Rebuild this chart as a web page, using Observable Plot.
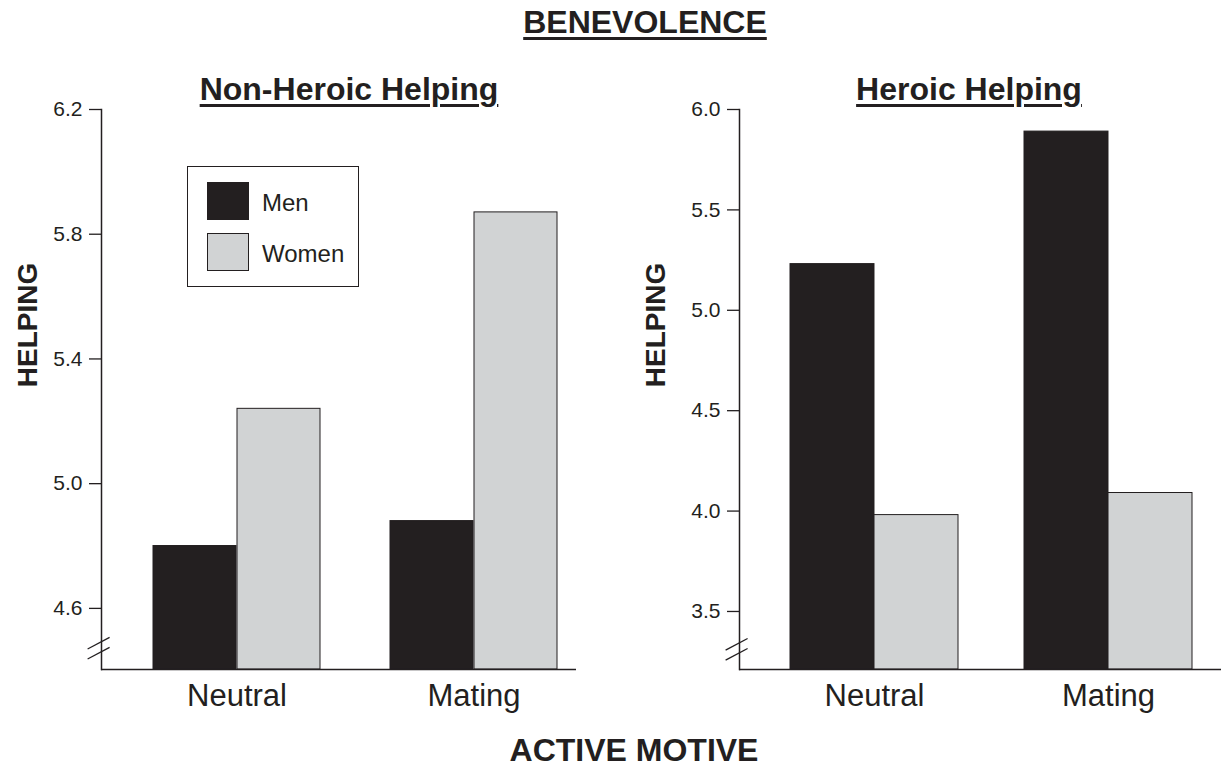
<!DOCTYPE html>
<html>
<head>
<meta charset="utf-8">
<script src="https://cdn.jsdelivr.net/npm/d3@7"></script>
<script src="https://cdn.jsdelivr.net/npm/@observablehq/plot@0.6"></script>
<style>
  html, body { margin: 0; padding: 0; background: #ffffff; }
  body { width: 1221px; height: 767px; overflow: hidden; font-family: "Liberation Sans", Arial, Helvetica, sans-serif; color: #231f20; }
  #root { position: relative; width: 1221px; height: 767px; }
  .abs { position: absolute; white-space: nowrap; line-height: 30px; }
  .title { font-weight: bold; font-size: 32px; text-decoration: underline; text-decoration-thickness: 3px; text-underline-offset: 4px; transform: translateX(-50%); }
  .ylab { font-weight: bold; font-size: 28px; transform: translate(-50%, -50%) rotate(-90deg); }
  .legend { position: absolute; border: 1.5px solid #231f20; background: #fff; box-sizing: border-box; }
  .legend .sw { position: absolute; box-sizing: border-box; border: 1px solid #231f20; }
  .legend .lt { position: absolute; font-size: 24px; line-height: 24px; }
  .plotwrap { position: absolute; }
</style>
</head>
<body>
<div id="root"></div>
<script>
// ---- data ----
const motives = ["Neutral", "Mating"];
const sexes = ["Men", "Women"];
const sexColors = ["#231f20", "#d1d3d4"];

const nonHeroicMen = [4.80, 4.88];
const nonHeroicWomen = [5.24, 5.87];
const heroicMen = [5.23, 5.89];
const heroicWomen = [3.98, 4.09];

const nonHeroicTicks = [4.6, 5.0, 5.4, 5.8, 6.2];
const heroicTicks = [3.5, 4.0, 4.5, 5.0, 5.5, 6.0];
const nonHeroicDomain = [4.404, 6.2];
const heroicDomain = [3.211, 6.0];

const mainTitle = "BENEVOLENCE";
const panelTitles = ["Non-Heroic Helping", "Heroic Helping"];
const yLabel = "HELPING";
const xLabel = "ACTIVE MOTIVE";

// ---- layout ----
const root = document.getElementById("root");
const ink = "#231f20";

function makePanel({men, women, ticks, domain, width, marginLeft, marginRight, pad}) {
  const rows = motives.flatMap((m, i) => [
    {motive: m, sex: sexes[0], value: men[i]},
    {motive: m, sex: sexes[1], value: women[i]}
  ]);
  const frameW = width - marginLeft - marginRight;
  const step = frameW / (motives.length - pad.inner + 2 * pad.outer);
  const bw = step * (1 - pad.inner);
  const chart = Plot.plot({
    width, height: 634,
    marginTop: 14, marginBottom: 60, marginLeft, marginRight,
    style: {fontFamily: '"Liberation Sans", Arial, Helvetica, sans-serif', color: ink, background: "transparent", overflow: "visible"},
    x: {domain: motives, paddingInner: pad.inner, paddingOuter: pad.outer, align: pad.align},
    y: {domain},
    color: {domain: sexes, range: sexColors},
    marks: [
      Plot.barY(rows.filter(d => d.sex === sexes[0]), {x: "motive", y1: domain[0], y2: "value", fill: "sex", stroke: ink, strokeWidth: 1, insetRight: bw / 2}),
      Plot.barY(rows.filter(d => d.sex === sexes[1]), {x: "motive", y1: domain[0], y2: "value", fill: "sex", stroke: ink, strokeWidth: 1, insetLeft: bw / 2}),
      Plot.frame({anchor: "left", stroke: ink, strokeWidth: 1.5}),
      Plot.ruleY([domain[0]], {stroke: ink, strokeWidth: 1.5}),
      Plot.axisY({ticks, tickFormat: d => d.toFixed(1), tickSize: 12, tickPadding: 7, fontSize: 21, label: null, stroke: ink, strokeWidth: 1.3}),
      Plot.axisX({tickSize: 0, tickPadding: 14, fontSize: 31, label: null})
    ]
  });
  // axis break marks, placed from the y scale
  const y = chart.scale("y");
  const yLow = y.apply(ticks[0]);
  const yBase = y.apply(domain[0]);
  const yc = yLow + 0.66 * (yBase - yLow);
  const xc = marginLeft - 2.4;
  const svg = d3.select(chart.tagName.toLowerCase() === "svg" ? chart : chart.querySelector("svg"));
  [-5, 5].forEach(off => {
    svg.append("line")
      .attr("x1", xc - 11).attr("y1", yc + off + 5.8)
      .attr("x2", xc + 11).attr("y2", yc + off - 5.8)
      .attr("stroke", ink).attr("stroke-width", 1.3);
  });
  return chart;
}

function addText(cls, text, left, top) {
  const d = document.createElement("div");
  d.className = "abs " + cls;
  d.textContent = text;
  d.style.left = left + "px";
  d.style.top = top + "px";
  root.appendChild(d);
  return d;
}

const left = makePanel({men: nonHeroicMen, women: nonHeroicWomen, ticks: nonHeroicTicks, domain: nonHeroicDomain,
  width: 600, marginLeft: 101, marginRight: 24, pad: {inner: 0.2935, outer: 0.1455, align: 0.733}});
const right = makePanel({men: heroicMen, women: heroicWomen, ticks: heroicTicks, domain: heroicDomain,
  width: 601, marginLeft: 119, marginRight: 0, pad: {inner: 0.283, outer: 0.170, align: 0.631}});

[[left, 0], [right, 620]].forEach(([c, x]) => {
  const w = document.createElement("div");
  w.className = "plotwrap";
  w.style.left = x + "px";
  w.style.top = "95px";
  w.appendChild(c);
  root.appendChild(w);
});

addText("title", mainTitle, 645, 7);
addText("title", panelTitles[0], 349, 74);
addText("title", panelTitles[1], 969, 74);
addText("title", xLabel, 634, 735).style.textDecoration = "none";
addText("ylab", yLabel, 28, 325);
addText("ylab", yLabel, 656, 325);

// legend
const lg = document.createElement("div");
lg.className = "legend";
Object.assign(lg.style, {left: "187px", top: "166px", width: "172px", height: "121px"});
sexes.forEach((s, i) => {
  const sw = document.createElement("div");
  sw.className = "sw";
  Object.assign(sw.style, {left: "19px", top: (15 + i * 51) + "px", width: "42px", height: "38px", background: sexColors[i]});
  lg.appendChild(sw);
  const t = document.createElement("div");
  t.className = "lt";
  t.textContent = s;
  Object.assign(t.style, {left: "74px", top: (24 + i * 51) + "px"});
  lg.appendChild(t);
});
root.appendChild(lg);
</script>
</body>
</html>
